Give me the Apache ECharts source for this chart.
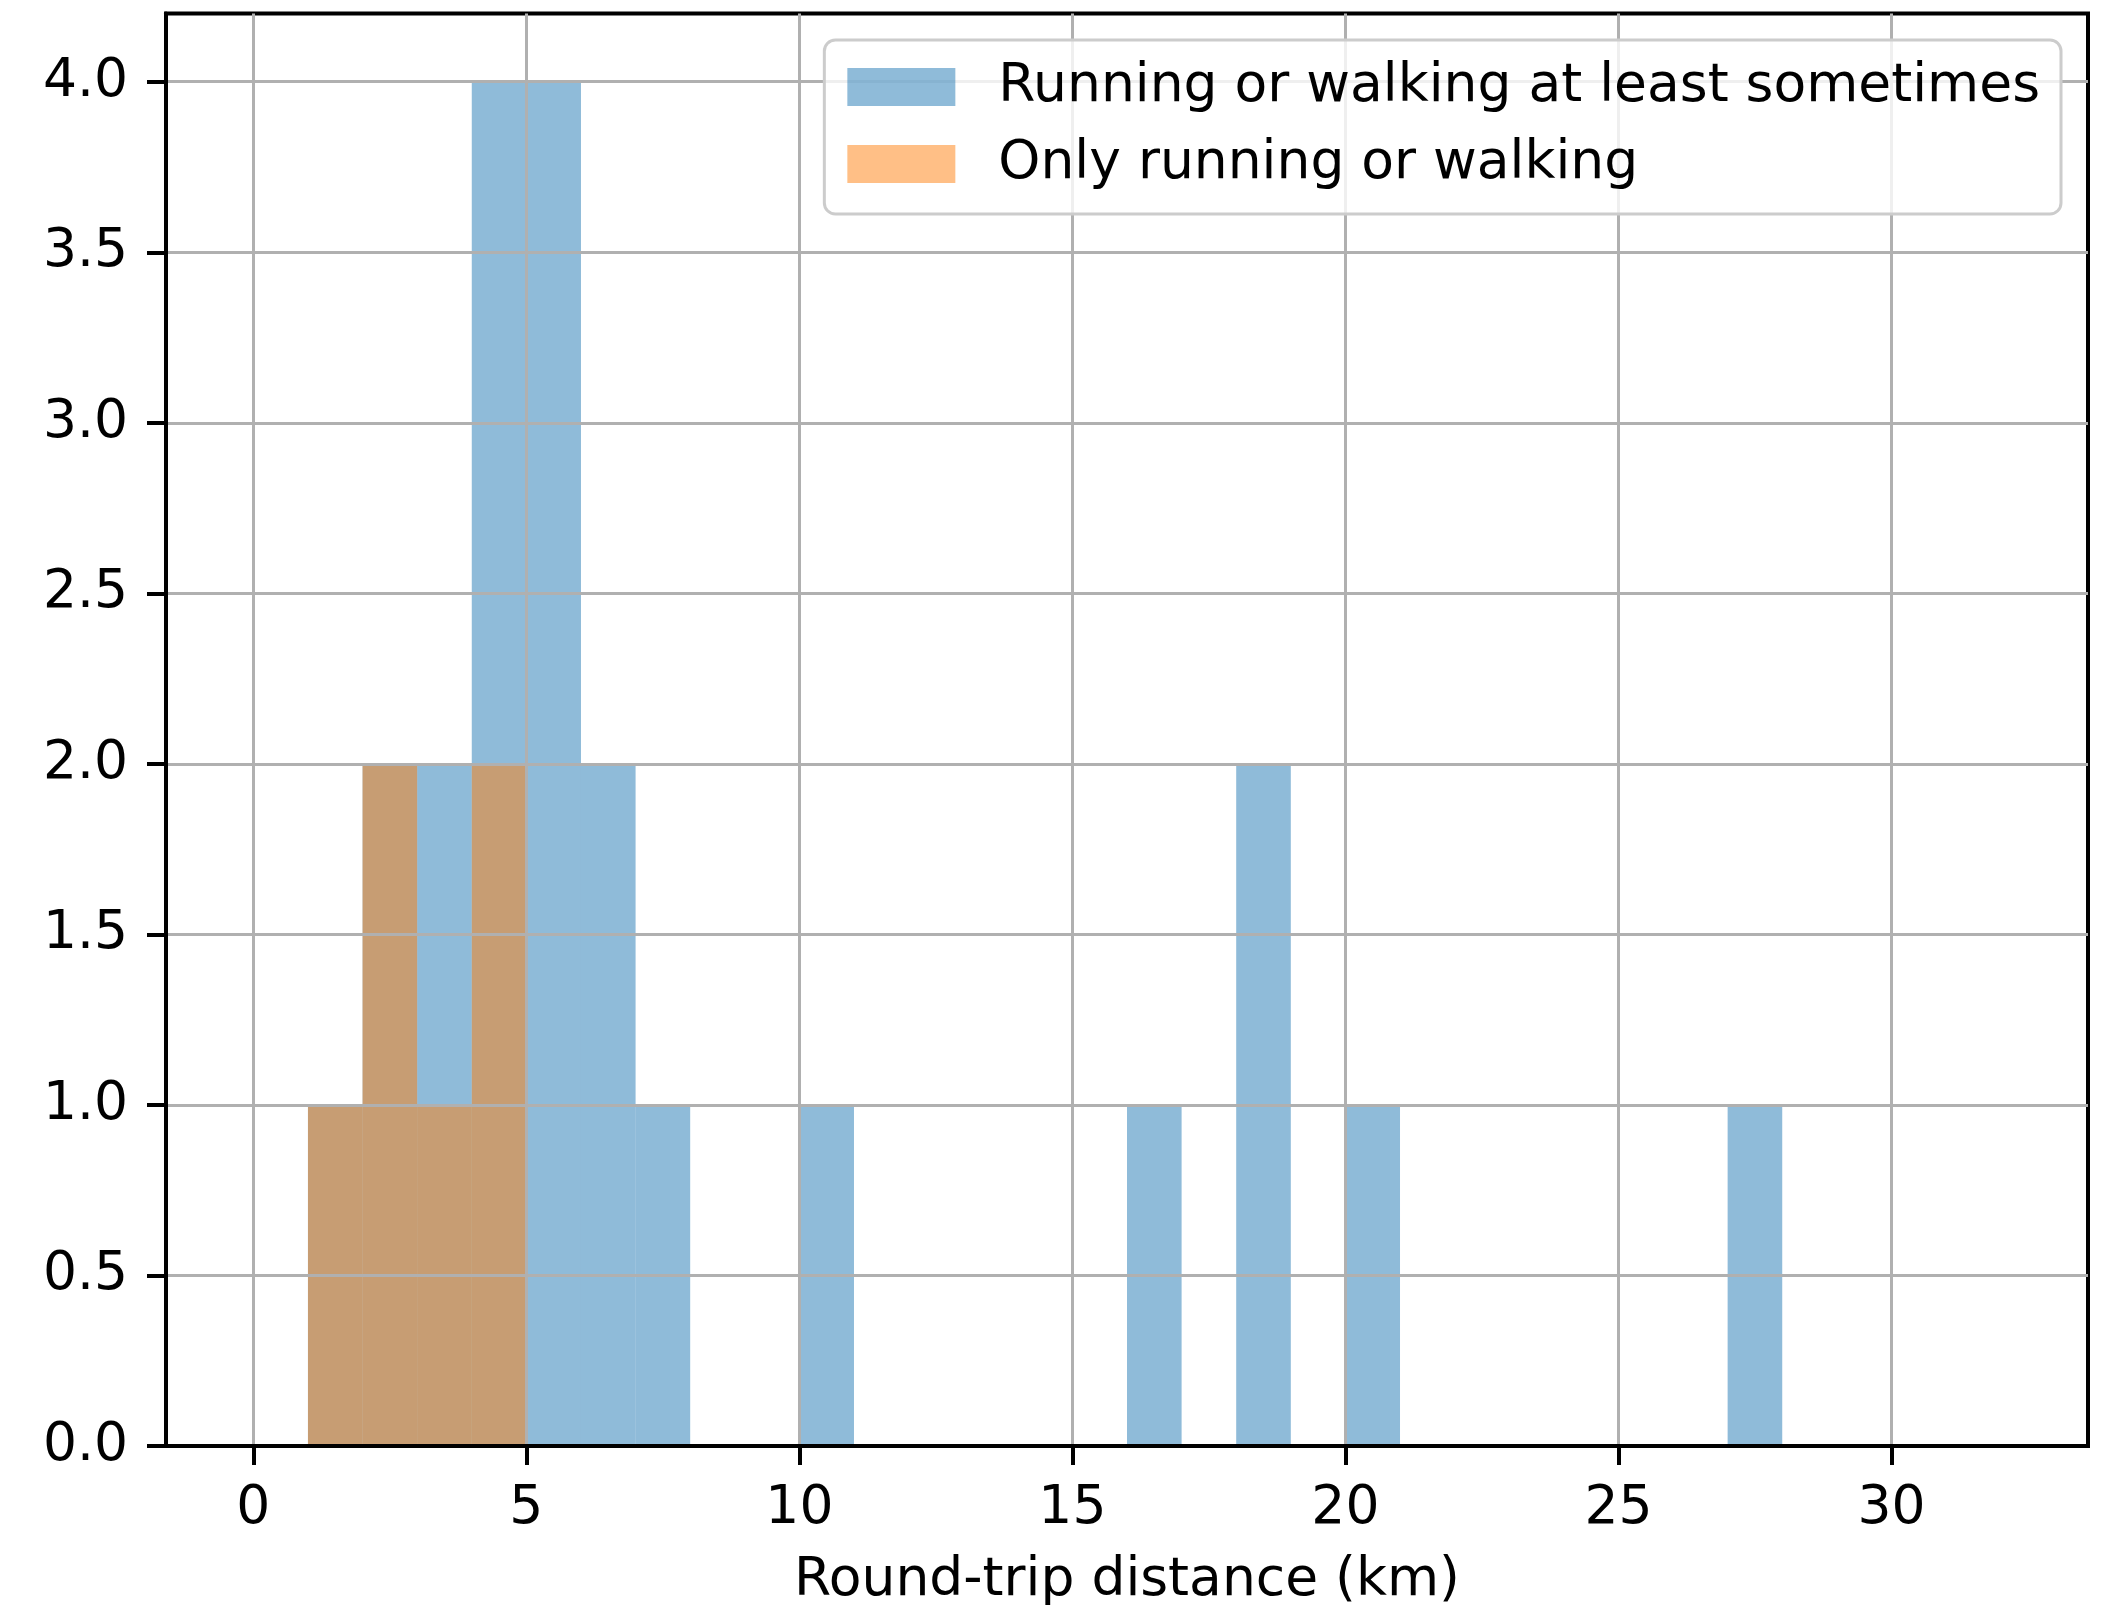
<!DOCTYPE html>
<html>
<head>
<meta charset="utf-8">
<script src="https://cdn.jsdelivr.net/npm/echarts@6/dist/echarts.min.js"></script>
<style>
  html, body { margin: 0; padding: 0; background: #ffffff; }
  #chart { width: 2111px; height: 1605px; }
</style>
</head>
<body>
<div id="chart"></div>
<script>
// Histogram bins are 1 km wide; each entry is the left edge of a non-empty bin.
const binWidth = 1;
const sometimesBinStarts = [1, 2, 3, 4, 5, 6, 7, 10, 16, 18, 20, 27];
const sometimesCounts    = [1, 2, 2, 4, 4, 2, 1, 1, 1, 2, 1, 1];
const onlyBinStarts = [1, 2, 3, 4];
const onlyCounts    = [1, 2, 1, 2];

const xTicks = [0, 5, 10, 15, 20, 25, 30];
const yTicks = [0, 0.5, 1, 1.5, 2, 2.5, 3, 3.5, 4];

const seriesNames = ['Running or walking at least sometimes', 'Only running or walking'];
const xAxisTitle = 'Round-trip distance (km)';

const FONT = 'DejaVu Sans';
const FS = 53.5;

function toBins(starts, counts) {
  return starts.map((s, i) => [s, s + binWidth, counts[i]]);
}

function renderBin(params, api) {
  const topLeft = api.coord([api.value(0), api.value(2)]);
  const bottomRight = api.coord([api.value(1), 0]);
  return {
    type: 'rect',
    shape: {
      x: topLeft[0],
      y: topLeft[1],
      width: bottomRight[0] - topLeft[0],
      height: bottomRight[1] - topLeft[1]
    },
    style: { fill: api.visual('color') }
  };
}

const chart = echarts.init(document.getElementById('chart'), null, { renderer: 'canvas' });

chart.setOption({
  animation: false,
  backgroundColor: '#ffffff',
  textStyle: { fontFamily: FONT, color: '#000000' },
  grid: {
    left: 166, right: 23, top: 13.5, bottom: 159,
    outerBoundsMode: 'none',
    containLabel: false,
    show: true,
    borderColor: '#000000',
    borderWidth: 4,
    backgroundColor: 'transparent'
  },
  legend: {
    orient: 'vertical',
    right: 50,
    top: 40,
    padding: [20, 21, 23, 23],
    itemWidth: 108,
    itemHeight: 38,
    itemGap: 23,
    backgroundColor: 'rgba(255,255,255,0.8)',
    borderColor: '#cccccc',
    borderWidth: 3,
    borderRadius: 11,
    textStyle: {
      fontFamily: FONT,
      fontSize: FS,
      lineHeight: 54,
      color: '#000000',
      padding: [0, 0, 0, 38]
    },
    data: [
      { name: seriesNames[0], icon: 'rect' },
      { name: seriesNames[1], icon: 'rect' }
    ]
  },
  xAxis: {
    type: 'value',
    min: -1.6,
    max: 33.6,
    name: xAxisTitle,
    nameLocation: 'middle',
    nameGap: 108,
    nameTextStyle: { fontFamily: FONT, fontSize: FS, color: '#000000' },
    axisLine: { show: true, onZero: false, lineStyle: { color: '#000000', width: 4 } },
    axisTick: {
      show: true, length: 19, inside: false,
      customValues: xTicks,
      lineStyle: { color: '#000000', width: 4 }
    },
    axisLabel: {
      customValues: xTicks,
      margin: 36,
      fontFamily: FONT, fontSize: FS, color: '#000000'
    },
    splitLine: { show: true, lineStyle: { color: '#b0b0b0', width: 3 } }
  },
  yAxis: {
    type: 'value',
    min: 0,
    max: 4.2,
    axisLine: { show: true, onZero: false, lineStyle: { color: '#000000', width: 4 } },
    axisTick: {
      show: true, length: 19, inside: false,
      customValues: yTicks,
      lineStyle: { color: '#000000', width: 4 }
    },
    axisLabel: {
      customValues: yTicks,
      margin: 38,
      fontFamily: FONT, fontSize: FS, color: '#000000',
      formatter: v => v.toFixed(1)
    },
    splitLine: { show: true, lineStyle: { color: '#b0b0b0', width: 3 } }
  },
  series: [
    {
      name: seriesNames[0],
      type: 'custom',
      z: -1,
      color: 'rgba(31,119,180,0.5)',
      renderItem: renderBin,
      encode: { x: [0, 1], y: 2 },
      data: toBins(sometimesBinStarts, sometimesCounts)
    },
    {
      name: seriesNames[1],
      type: 'custom',
      z: -1,
      color: 'rgba(255,127,14,0.5)',
      renderItem: renderBin,
      encode: { x: [0, 1], y: 2 },
      data: toBins(onlyBinStarts, onlyCounts)
    }
  ]
});
</script>
</body>
</html>
